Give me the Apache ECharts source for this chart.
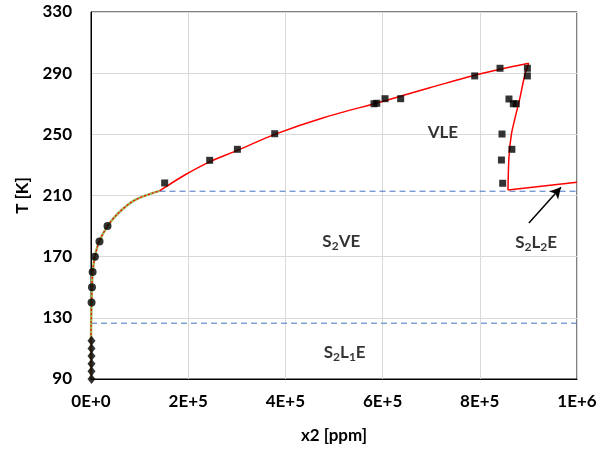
<!DOCTYPE html>
<html><head><meta charset="utf-8">
<script src="https://cdn.jsdelivr.net/npm/echarts@6/dist/echarts.min.js"></script>
<style>html,body{margin:0;padding:0;background:#fff}#c{width:607px;height:452px}</style>
</head><body><div id="c"></div>
<script>
// VLE experimental data (squares): [x2 ppm, T K]
const vleData = [[151600,218.2],[244200,233],[301200,240.2],[378000,250.4],[582300,270],[588000,270.3],[605000,273.3],[637200,273.3],[789500,288.2],[841600,293.2],[897900,293.2],[897900,288.2],[860000,273.1],[869000,270],[875000,270],[845700,250.2],[866000,240.2],[844500,233.2],[847100,218]];
// S2VE experimental data (circles)
const s2veData = [[1200,140],[2000,150],[3300,160],[8000,170],[17500,180],[34000,190]];
// S2L1E experimental data (diamonds)
const s2l1eData = [[1000,90],[1000,95],[1000,100],[1000,105],[1000,110],[1000,115]];
// S2VE model curve
const s2veCurve = [[0,90],[0,115],[300,126.6],[1200,140],[2000,150],[3400,160],[8000,170],[17000,180],[34000,190],[56000,198.4],[90000,207],[141000,213]];
// VLE model curve: vapour branch, liquid branch, S2L2E line
const vapourBranch = [[141000,213],[193000,223.4],[244000,232],[301000,239.5],[378000,250],[480000,261],[600000,271.5],[697000,280.5],[800000,289.5],[900600,296.5]];
const liquidBranch = [[900600,296.5],[892000,288],[882000,273],[872000,260],[865000,250],[860000,235],[858000,213.6]];
const s2l2eLine = [[858000,213.6],[1000000,218.6]];
// three-phase lines
const lowerTriple = [[0,126.5],[1000000,126.5]];
const upperTriple = [[141000,212.8],[1000000,212.8]];
// annotation arrow (tail, head)
const arrowPts = [[901000,192],[967000,215.4]];
// region labels
const labels = [
  {pos:[724000,251], text:'VLE'},
  {pos:[515000,180], text:'S{s|2}VE'},
  {pos:[522000,107.5], text:'S{s|2}L{s|1}E'},
  {pos:[916000,179], text:'S{s|2}L{s|2}E'}
];
const xTicks = {min:0, max:1000000, interval:200000};
const yTicks = {min:90, max:330, interval:40};

const FONT = 'Lato';
function sci(v){
  if(v===0) return '0E+0';
  const e = Math.floor(Math.log10(v)+1e-9);
  const m = Math.round(v/Math.pow(10,e)*100)/100;
  return m+'E+'+e;
}
const chart = echarts.init(document.getElementById('c'));
chart.setOption({
  animation:false,
  grid:{left:91,right:30,top:12,bottom:73,show:true,borderColor:'#000',borderWidth:1},
  xAxis:{type:'value',min:xTicks.min,max:xTicks.max,interval:xTicks.interval,
    name:'x2 [ppm]',nameLocation:'middle',nameGap:48,
    nameTextStyle:{fontFamily:FONT,fontWeight:'bold',fontSize:17,color:'#000'},
    axisLine:{lineStyle:{color:'#000',width:1}},axisTick:{show:false},
    axisLabel:{formatter:sci,fontFamily:FONT,fontWeight:'bold',fontSize:17,color:'#000',margin:14},
    splitLine:{show:true,lineStyle:{color:'#d9d9d9',width:1}}},
  yAxis:{type:'value',min:yTicks.min,max:yTicks.max,interval:yTicks.interval,
    name:'T [K]',nameLocation:'middle',nameGap:60,nameRotate:90,
    nameTextStyle:{fontFamily:FONT,fontWeight:'bold',fontSize:17,color:'#000'},
    axisLine:{show:true,lineStyle:{color:'#000',width:1}},axisTick:{show:false},
    axisLabel:{fontFamily:FONT,fontWeight:'bold',fontSize:17,color:'#000',margin:19},
    splitLine:{show:true,lineStyle:{color:'#d9d9d9',width:1}}},
  series:[
    {type:'line',data:lowerTriple,symbol:'none',lineStyle:{color:'#4472c4',width:1,type:[6,4]},z:2},
    {type:'line',data:upperTriple,symbol:'none',lineStyle:{color:'#4472c4',width:1,type:[6,4]},z:2},
    {type:'line',data:s2veCurve,symbol:'none',smooth:0.3,lineStyle:{color:'#9bbb59',width:2.5},z:3},
    {type:'line',data:s2veCurve,symbol:'none',smooth:0.3,lineStyle:{color:'#ff0000',width:1.2,type:[2,2]},z:4},
    {type:'line',data:vapourBranch,symbol:'none',smooth:0.3,lineStyle:{color:'#ff0000',width:1.5},z:4},
    {type:'line',data:liquidBranch,symbol:'none',smooth:0.3,lineStyle:{color:'#ff0000',width:1.5},z:4},
    {type:'line',data:s2l2eLine,symbol:'none',lineStyle:{color:'#ff0000',width:1.5},z:4},
    {type:'scatter',data:vleData,symbol:'rect',symbolSize:7,itemStyle:{color:'#000'},z:5},
    {type:'scatter',data:s2veData,symbol:'circle',symbolSize:8,itemStyle:{color:'#000'},z:5},
    {type:'scatter',data:s2l1eData,symbol:'diamond',symbolSize:[8,10],itemStyle:{color:'#000'},z:5},
    {type:'line',data:[],z:6,
      markLine:{silent:true,symbol:['none','arrow'],symbolSize:[9,11],label:{show:false},
        lineStyle:{color:'#000',width:1.5,type:'solid'},
        data:[[{coord:arrowPts[0]},{coord:arrowPts[1]}]]}},
    {type:'scatter',symbolSize:0,z:7,
      data:labels.map(l=>({value:l.pos,label:{formatter:l.text}})),
      label:{show:true,position:'inside',color:'#000',fontFamily:FONT,fontWeight:'bold',fontSize:17,
        rich:{s:{fontFamily:FONT,fontWeight:'bold',fontSize:12,padding:[9,0,0,0],verticalAlign:'bottom'}}}}
  ]
});
</script></body></html>
